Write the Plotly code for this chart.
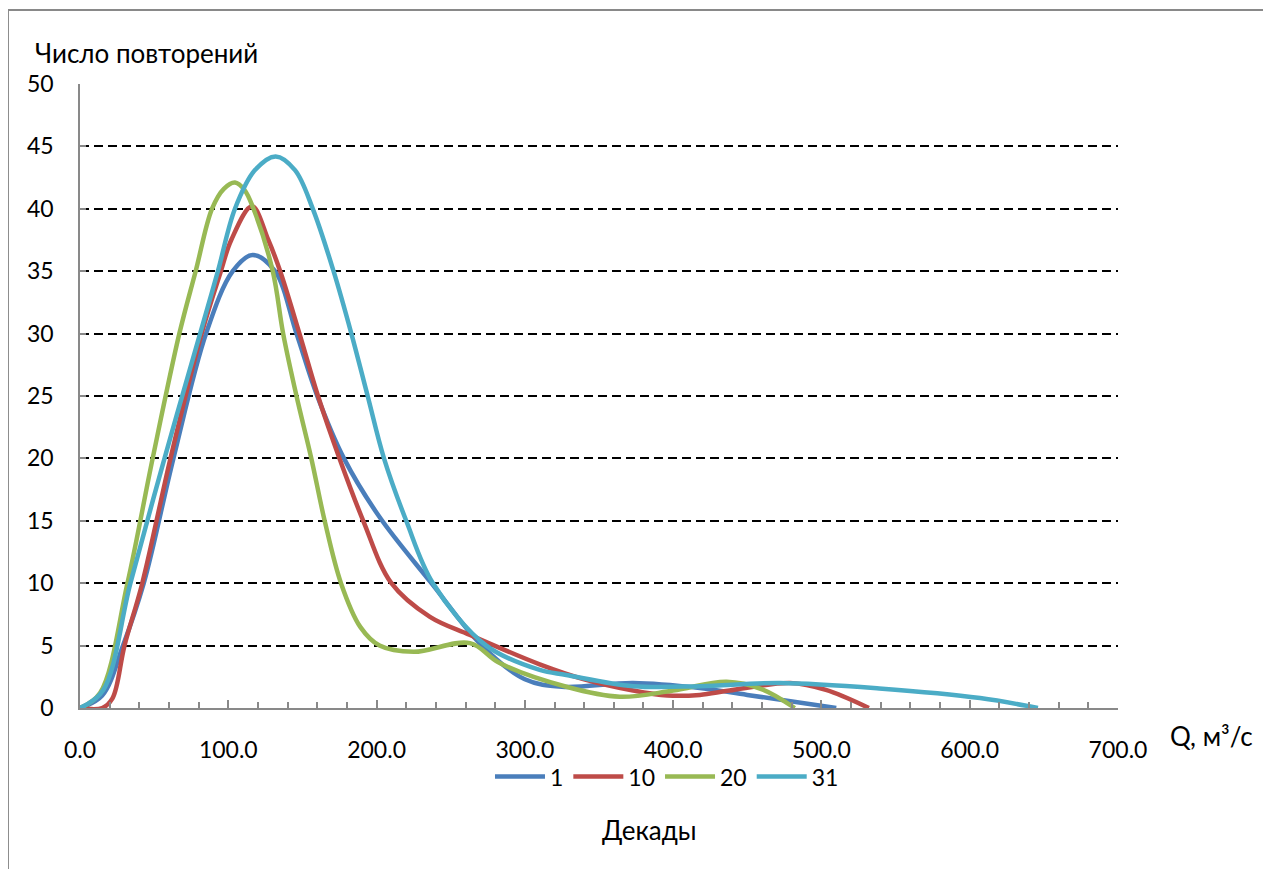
import plotly.graph_objects as go

# ---- data ----
names = ["1", "10", "20", "31"]
colors = ["#4A7EBB", "#BE4B48", "#98B954", "#4BACC6"]

q_1 = [0, 15, 29, 43, 63, 85, 103, 116.4, 131.5, 146, 160, 178, 202, 237, 271, 300, 325, 373, 418, 450, 510]
n_1 = [0, 1.0, 5, 10, 20, 30, 35, 36.3, 35, 30, 25, 20, 15.3, 10, 5, 2.3, 1.7, 2.0, 1.6, 1.05, 0]

q_10 = [0, 15, 22, 30, 42, 61, 82, 95, 102, 116, 127, 135, 148, 160.5, 175, 191, 210, 236, 263, 310, 340, 373, 396, 418, 438, 479, 503, 532]
n_10 = [0, 0, 0.8, 5, 10, 20, 30, 35, 37.5, 40.2, 37.5, 35, 30, 25, 20, 15, 10, 7.3, 5.85, 3.5, 2.3, 1.4, 1.0, 1.05, 1.4, 2.0, 1.45, 0]

q_20 = [0, 13.5, 32, 49, 67, 78, 89, 97, 104.5, 111, 117, 130, 137, 146, 156, 165, 176, 189, 202, 225, 263, 283, 328, 364, 400, 436, 460, 482]
n_20 = [0, 1.2, 10, 20, 30, 35, 40, 41.6, 42.1, 41.5, 40, 35, 30, 25, 20, 15, 10, 6.5, 5.0, 4.5, 5.2, 3.6, 1.7, 0.9, 1.4, 2.1, 1.5, 0]

q_31 = [0, 15.5, 34, 57, 81, 93, 104.5, 118, 132, 145, 157, 171, 183, 194, 205, 220, 238, 274, 310, 328, 373, 418, 472, 539, 607, 646]
n_31 = [0, 1.4, 10, 20, 30, 35, 40, 43.1, 44.2, 43.1, 40, 35, 30, 25, 20, 15, 10, 5, 3.05, 2.65, 1.75, 1.75, 2.0, 1.57, 0.8, 0]

series_q = [q_1, q_10, q_20, q_31]
series_n = [n_1, n_10, n_20, n_31]

y_title = "Число повторений"
x_title = "Q, м³/с"
legend_caption = "Декады"

FONT = "Lato, 'Open Sans', sans-serif"
AXIS_GRAY = "#898989"
TICK_SIZE = 23
TITLE_SIZE = 26

fig = go.Figure()
for name, col, qs, ns in zip(names, colors, series_q, series_n):
    fig.add_trace(go.Scatter(
        x=qs, y=ns, name=name, mode="lines",
        line=dict(color=col, width=4.5, shape="spline", smoothing=1.0),
    ))

# overlay axis only for the longer ticks at every 100
fig.add_trace(go.Scatter(x=[0, 700], y=[0, 0], xaxis="x2", mode="lines",
                         line=dict(width=0), showlegend=False, hoverinfo="skip"))

fig.update_layout(
    width=1271, height=869,
    margin=dict(l=72, r=161, t=76, b=169),
    paper_bgcolor="white", plot_bgcolor="white",
    font=dict(family=FONT, size=TICK_SIZE, color="black"),
    showlegend=True,
    legend=dict(orientation="h", x=0.5655, y=-0.11, xanchor="center", yanchor="middle",
                xref="paper", yref="paper", font=dict(size=TICK_SIZE), itemwidth=50,
                traceorder="normal", bgcolor="rgba(0,0,0,0)"),
    xaxis=dict(range=[0, 700], dtick=100, tick0=0, tickformat=".1f",
               showgrid=False, zeroline=False,
               showline=True, linecolor=AXIS_GRAY, linewidth=1.5,
               ticks="inside", ticklen=8, tickwidth=1.5, tickcolor=AXIS_GRAY,
               minor=dict(ticks="inside", dtick=20, ticklen=6, tickwidth=1.5,
                          tickcolor=AXIS_GRAY, showgrid=False),
               ticklabelstandoff=21, tickfont=dict(size=TICK_SIZE)),
    xaxis2=dict(range=[0, 700], overlaying="x", side="bottom", showticklabels=False,
                showgrid=False, zeroline=False, showline=False,
                ticks="inside", dtick=100, ticklen=8, tickwidth=1.5, tickcolor=AXIS_GRAY),
    yaxis=dict(range=[0, 50], dtick=5, tick0=0,
               showgrid=True, gridcolor="black", gridwidth=1.6, griddash="9px,5px",
               zeroline=False, showline=True, linecolor=AXIS_GRAY, linewidth=1.5,
               ticks="inside", ticklen=6, tickwidth=1.5, tickcolor=AXIS_GRAY,
               ticklabelstandoff=20, tickfont=dict(size=TICK_SIZE)),
    shapes=[dict(type="rect", xref="paper", yref="paper",
                 x0=-0.0694, x1=1.17, y0=-0.3, y1=1.1186,
                 line=dict(color=AXIS_GRAY, width=2), fillcolor="rgba(0,0,0,0)", layer="below")],
    annotations=[
        dict(text=y_title, xref="paper", yref="paper", x=-0.0453, y=1.05,
             xanchor="left", yanchor="middle", showarrow=False, font=dict(size=TITLE_SIZE)),
        dict(text=x_title, xref="paper", yref="paper", x=1.048, y=-0.045,
             xanchor="left", yanchor="middle", showarrow=False, font=dict(size=TITLE_SIZE)),
        dict(text=legend_caption, xref="paper", yref="paper", x=0.549, y=-0.1955,
             xanchor="center", yanchor="middle", showarrow=False, font=dict(size=TITLE_SIZE)),
    ],
)

fig.write_html("out.html")
